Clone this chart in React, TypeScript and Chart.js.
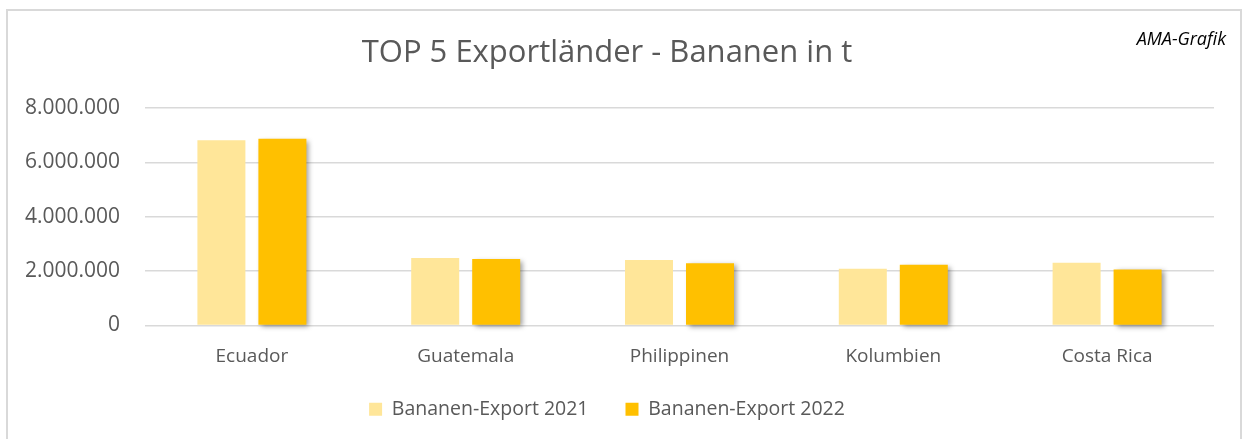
import React, { useEffect, useRef } from "react";
import { Chart, registerables } from "chart.js";

Chart.register(...registerables);

const categories = ["Ecuador", "Guatemala", "Philippinen", "Kolumbien", "Costa Rica"];
const export2021 = [6810000, 2480000, 2410000, 2090000, 2310000];
const export2022 = [6870000, 2450000, 2290000, 2230000, 2060000];
const seriesLabels = ["Bananen-Export 2021", "Bananen-Export 2022"];
const titleText = "TOP 5 Exportländer - Bananen in t";
const sourceText = "AMA-Grafik";

const FONT = '"Open Sans", sans-serif';
const TEXT = "#595959";

const fmt = (v: number) => String(Math.round(v)).replace(/\B(?=(\d{3})+(?!\d))/g, ".");

const shadowPlugin = {
  id: "barShadow",
  beforeDatasetDraw(chart: any, args: any) {
    if (args.index === 1) {
      const ctx = chart.ctx;
      ctx.save();
      ctx.shadowColor = "rgba(0,0,0,0.38)";
      ctx.shadowBlur = 5;
      ctx.shadowOffsetX = 3;
      ctx.shadowOffsetY = 2;
    }
  },
  afterDatasetDraw(chart: any, args: any) {
    if (args.index === 1) chart.ctx.restore();
  },
};

const noLabelClipPlugin = {
  id: "noLabelClip",
  afterLayout(chart: any) {
    const x = chart.scales.x;
    if (x) x._computeLabelArea = () => undefined;
  },
};

const sourcePlugin = {
  id: "sourceLabel",
  afterDraw(chart: any) {
    const ctx = chart.ctx;
    ctx.save();
    ctx.font = `italic 18px ${FONT}`;
    ctx.fillStyle = "#000000";
    ctx.textAlign = "right";
    ctx.textBaseline = "alphabetic";
    ctx.fillText(sourceText, 1226, 45);
    ctx.restore();
  },
};

export default function App() {
  const ref = useRef<HTMLCanvasElement | null>(null);

  useEffect(() => {
    if (!ref.current) return;
    const chart = new Chart(ref.current, {
      type: "bar",
      data: {
        labels: categories,
        datasets: [
          {
            label: seriesLabels[0],
            data: export2021,
            backgroundColor: "#FFE699",
            borderWidth: 0,
            categoryPercentage: 0.5706,
            barPercentage: 0.787,
          },
          {
            label: seriesLabels[1],
            data: export2022,
            backgroundColor: "#FFC000",
            borderWidth: 0,
            categoryPercentage: 0.5706,
            barPercentage: 0.787,
            clip: false as any,
          },
        ],
      },
      options: {
        animation: false,
        responsive: false,
        layout: { padding: { left: 0, right: 30, top: 0, bottom: 10 } },
        plugins: {
          title: {
            display: true,
            text: titleText,
            color: TEXT,
            font: { family: FONT, size: 31, weight: "normal", lineHeight: 1.2 },
            padding: { top: 35, bottom: 35.8 },
          },
          legend: {
            display: true,
            position: "bottom",
            labels: {
              color: TEXT,
              font: { family: FONT, size: 19.5 },
              boxWidth: 13,
              boxHeight: 13,
              padding: 37,
            },
          },
          tooltip: { enabled: false },
        },
        scales: {
          x: {
            grid: { display: false, drawTicks: false },
            border: { display: false },
            ticks: { color: TEXT, font: { family: FONT, size: 19 }, padding: 20 },
            afterFit: (s: any) => {
              s.height = 37;
            },
          },
          y: {
            min: 0,
            max: 8000000,
            grid: { color: "#D9D9D9", lineWidth: 1.5, drawTicks: false },
            border: { display: false },
            ticks: {
              stepSize: 2000000,
              color: TEXT,
              font: { family: FONT, size: 21 },
              padding: 25,
              callback: (v: any) => fmt(Number(v)),
            },
            afterFit: (s: any) => {
              s.width = 145;
            },
          },
        },
      },
      plugins: [shadowPlugin, noLabelClipPlugin, sourcePlugin],
    });
    return () => chart.destroy();
  }, []);

  return (
    <div
      style={{
        position: "absolute",
        left: 0,
        top: 0,
        width: 1244,
        height: 439,
        overflow: "hidden",
        background: "#ffffff",
      }}
    >
      <div
        style={{
          position: "absolute",
          left: 6,
          top: 9,
          width: 1236,
          height: 480,
          border: "2px solid #D9D9D9",
          boxSizing: "border-box",
        }}
      />
      <canvas
        ref={ref}
        width={1244}
        height={439}
        style={{ position: "absolute", left: 0, top: 0, width: 1244, height: 439 }}
      />
    </div>
  );
}
